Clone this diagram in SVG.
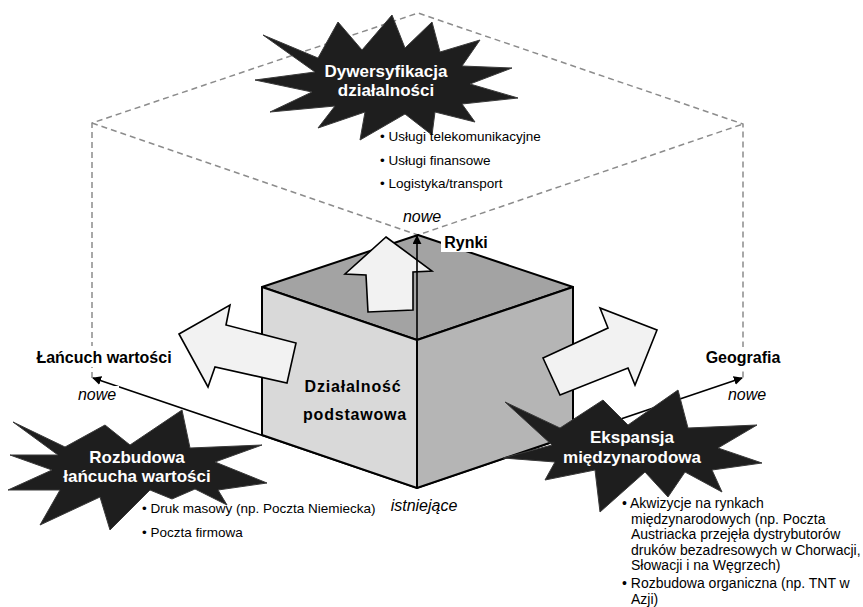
<svg xmlns="http://www.w3.org/2000/svg" width="863" height="607" viewBox="0 0 863 607">
<defs>
<marker id="ah" viewBox="0 0 10 10" refX="9" refY="5" markerWidth="9" markerHeight="9" markerUnits="userSpaceOnUse" orient="auto">
<path d="M0,0 L10,5 L0,10 z" fill="#000"/>
</marker>
<style>
.dash{fill:none;stroke:#8c8c8c;stroke-width:1.5;stroke-dasharray:6 4}
.axis{fill:none;stroke:#000;stroke-width:1.6;marker-end:url(#ah)}
.face{stroke:#000;stroke-width:2;stroke-linejoin:round}
.arrow{fill:#f2f2f2;stroke:#000;stroke-width:1.6;stroke-linejoin:miter}
.star{fill:#1e1e1e;stroke:#3a3a3a;stroke-width:1}
.st{font-family:"Liberation Sans",Arial,sans-serif;font-weight:bold;font-size:17px;fill:#fff;text-anchor:middle}
.lbl{font-family:"Liberation Sans",Arial,sans-serif;font-weight:bold;font-size:16px;fill:#000;text-anchor:middle}
.it{font-family:"Liberation Sans",Arial,sans-serif;font-style:italic;font-size:16px;fill:#000;text-anchor:middle}
.bl{font-family:"Liberation Sans",Arial,sans-serif;font-size:13.5px;fill:#000}
.br{font-family:"Liberation Sans",Arial,sans-serif;font-size:14px;fill:#000}
.cube{font-family:"Liberation Sans",Arial,sans-serif;font-weight:bold;font-size:16px;letter-spacing:0.8px;fill:#000;text-anchor:middle}
.bg{fill:#fff}
</style>
</defs>

<g id="connectors">
<polyline class="dash" points="92,378 92,123 418,13 743,124 743,378"/>
<polyline class="dash" points="92,123 418,235 743,124"/>
<line class="axis" x1="417" y1="488" x2="93" y2="378"/>
<line class="axis" x1="417" y1="488" x2="742" y2="378"/>
</g>

<g id="cube">
<polygon class="face" fill="#a3a3a3" points="418,235 573,287 417,340 262,287"/>
<polygon class="face" fill="#d9d9d9" points="262,287 417,340 417,488 262,435"/>
<polygon class="face" fill="#b5b5b5" points="417,340 573,287 573,435 417,488"/>
<text class="cube" x="353" y="392">Działalność</text>
<text class="cube" x="355" y="420">podstawowa</text>
</g>

<g id="arrow-left">
<polygon class="arrow" points="179,334 230,305 226,325 296,343 287,383 215,367 208,387"/>
</g>
<g id="arrow-right">
<polygon class="arrow" points="543,358 608,328 600,308 657,330 635,385 628,368 560,395"/>
</g>
<g id="arrow-up">
<polygon class="arrow" points="386,237 432,271 413,272 413,310 368,312 366,275 345,274"/>
</g>

<g id="rynki-axis">
<line class="axis" x1="417" y1="340" x2="417" y2="236"/>
</g>

<g id="star-top">
<polygon class="star" points="263,35 318,58 338,22 362,50 392,15 405,48 432,22 440,52 480,40 462,66 512,68 470,84 518,98 462,104 475,122 435,112 432,135 405,114 360,140 365,112 318,128 335,106 270,112 312,92 255,80 315,72"/>
<text class="st" x="386" y="77">Dywersyfikacja</text>
<text class="st" x="386" y="96">działalności</text>
</g>

<g id="star-left">
<polygon class="star" points="13,422 65,447 105,425 130,445 182,410 190,448 262,445 215,462 267,483 218,490 227,505 195,489 172,499 150,490 110,530 100,497 40,525 60,490 8,490 52,470 10,455 58,455"/>
<text class="st" x="137" y="463">Rozbudowa</text>
<text class="st" x="137" y="482">łańcucha wartości</text>
</g>

<g id="star-right">
<polygon class="star" points="505,402 560,428 603,400 628,425 678,390 688,428 757,425 718,448 762,463 712,470 722,492 685,472 668,497 645,472 600,512 595,470 545,480 555,462 503,458 552,445"/>
<text class="st" x="632" y="443">Ekspansja</text>
<text class="st" x="632" y="463">międzynarodowa</text>
</g>

<g id="labels">
<rect class="bg" x="28" y="346" width="151" height="21"/>
<text class="lbl" x="104" y="363">Łańcuch wartości</text>
<rect class="bg" x="75" y="386" width="44" height="18"/>
<text class="it" x="97" y="400">nowe</text>
<rect class="bg" x="701" y="347" width="85" height="21"/>
<text class="lbl" x="743" y="363">Geografia</text>
<rect class="bg" x="725" y="386" width="44" height="18"/>
<text class="it" x="747" y="400">nowe</text>
<text class="it" x="422" y="222">nowe</text>
<rect class="bg" x="441" y="233" width="51" height="19"/>
<text class="lbl" x="466" y="248">Rynki</text>
<rect class="bg" x="386" y="497" width="76" height="19"/>
<text class="it" x="424" y="511">istniejące</text>
</g>

<g id="bullets-top">
<text class="bl" x="380" y="141">• Usługi telekomunikacyjne</text>
<text class="bl" x="380" y="165">• Usługi finansowe</text>
<text class="bl" x="380" y="188">• Logistyka/transport</text>
</g>

<g id="bullets-left">
<text class="bl" x="142" y="513">• Druk masowy (np. Poczta Niemiecka)</text>
<text class="bl" x="142" y="537">• Poczta firmowa</text>
</g>

<g id="bullets-right">
<text class="br" x="622" y="508">• Akwizycje na rynkach</text>
<text class="br" x="631" y="524">międzynarodowych (np. Poczta</text>
<text class="br" x="631" y="539">Austriacka przejęła dystrybutorów</text>
<text class="br" x="631" y="555">druków bezadresowych w Chorwacji,</text>
<text class="br" x="631" y="570">Słowacji i na Węgrzech)</text>
<text class="br" x="622" y="588">• Rozbudowa organiczna (np. TNT w</text>
<text class="br" x="631" y="604">Azji)</text>
</g>
</svg>
